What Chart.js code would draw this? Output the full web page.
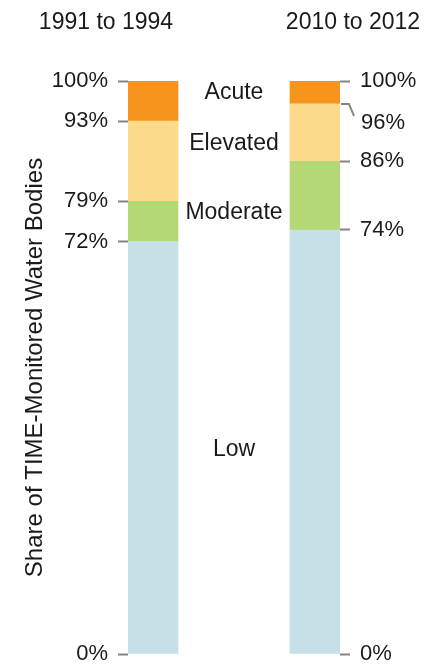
<!DOCTYPE html>
<html>
<head>
<meta charset="utf-8">
<script src="https://cdn.jsdelivr.net/npm/chart.js@4"></script>
<style>
  html, body { margin: 0; padding: 0; background: #fff; }
  #wrap { width: 440px; height: 666px; }
</style>
</head>
<body>
<div id="wrap"><canvas id="chart"></canvas></div>
<script>
const periods = ["1991 to 1994", "2010 to 2012"];
const levels = ["Low", "Moderate", "Elevated", "Acute"];
const low = [72, 74];
const moderate = [7, 12];
const elevated = [14, 10];
const acute = [7, 4];
const leftTicks = [0, 72, 79, 93, 100];
const rightTicks = [0, 74, 86, 96, 100];

const FONT = "'Liberation Sans', Arial, Helvetica, sans-serif";
const TEXT = "#1a1a1a";
const TICK = "#858585";
const levelColors = ["#c5e0e6", "#b5d775", "#fdd98a", "#f7941e"];
// where the level names sit, in % of the axis
const levelLabelAt = [35.6, 77, 89, 97.9];

const BAR = 50;
// half a bar in x units, so the bars sit right against the two axes
const HALF = 25 / 162;

const series = [low, moderate, elevated, acute];

const overlay = {
  id: "overlay",
  afterDraw(chart) {
    const { ctx, chartArea } = chart;
    const y = chart.scales.y;
    const bars = chart.getDatasetMeta(0).data;
    ctx.save();
    ctx.fillStyle = TEXT;
    ctx.textBaseline = "middle";
    ctx.textAlign = "center";

    // period headings
    ctx.font = "23px " + FONT;
    ctx.fillText(periods[0], chartArea.left - 22, 23);
    ctx.fillText(periods[1], chartArea.right + 13, 23);

    // level names between the bars
    const midX = (bars[0].x + bars[1].x) / 2;
    levels.forEach((name, i) => {
      ctx.fillText(name, midX, y.getPixelForValue(levelLabelAt[i]));
    });

    // bent leader for the 96% tick on the right
    const y96 = y.getPixelForValue(96);
    const x0 = chartArea.right + 1;
    ctx.strokeStyle = TICK;
    ctx.lineWidth = 2;
    ctx.beginPath();
    ctx.moveTo(x0, y96);
    ctx.lineTo(x0 + 8, y96);
    ctx.lineTo(x0 + 13, y96 + 12);
    ctx.stroke();

    ctx.font = "22px " + FONT;
    ctx.textAlign = "left";
    ctx.fillText("96%", chartArea.right + 21, y96 + 19);
    ctx.restore();
  },
};

const axisY = (ticks, position, width) => ({
  type: "linear",
  position,
  min: 0,
  max: 100,
  stacked: true,
  border: { display: false },
  grid: {
    drawOnChartArea: false,
    drawTicks: true,
    tickLength: 10,
    tickWidth: 2,
    tickColor: (c) =>
      position === "right" && c.tick && c.tick.value === 96 ? "rgba(0,0,0,0)" : TICK,
  },
  afterBuildTicks(scale) {
    scale.ticks = ticks.map((v) => ({ value: v }));
  },
  afterFit(scale) {
    scale.width = width;
    scale.paddingBottom = 12;
  },
  ticks: {
    padding: 10,
    color: TEXT,
    font: { family: FONT, size: 22 },
    callback: (v) => (position === "right" && v === 96 ? "" : v + "%"),
  },
});

const yLeft = axisY(leftTicks, "left", 110);
yLeft.title = {
  display: true,
  text: "Share of TIME-Monitored Water Bodies",
  color: TEXT,
  font: { family: FONT, size: 24 },
  padding: { top: 3, bottom: 0 },
};

const yRight = axisY(rightTicks, "right", 100);

new Chart(document.getElementById("chart"), {
  type: "bar",
  data: {
    datasets: levels.map((name, i) => ({
      label: name,
      data: series[i].map((v, j) => ({ x: j, y: v })),
      backgroundColor: levelColors[i],
      borderWidth: 0,
      barThickness: BAR,
      yAxisID: "y",
    })),
  },
  options: {
    responsive: true,
    maintainAspectRatio: false,
    animation: false,
    layout: { padding: { left: 18, right: 0, top: 81, bottom: 12 } },
    plugins: {
      legend: { display: false },
      tooltip: { enabled: false },
    },
    scales: {
      x: {
        type: "linear",
        display: false,
        stacked: true,
        offset: false,
        min: -HALF,
        max: 1 + HALF,
      },
      y: yLeft,
      y2: yRight,
    },
  },
  plugins: [overlay],
});
</script>
</body>
</html>
